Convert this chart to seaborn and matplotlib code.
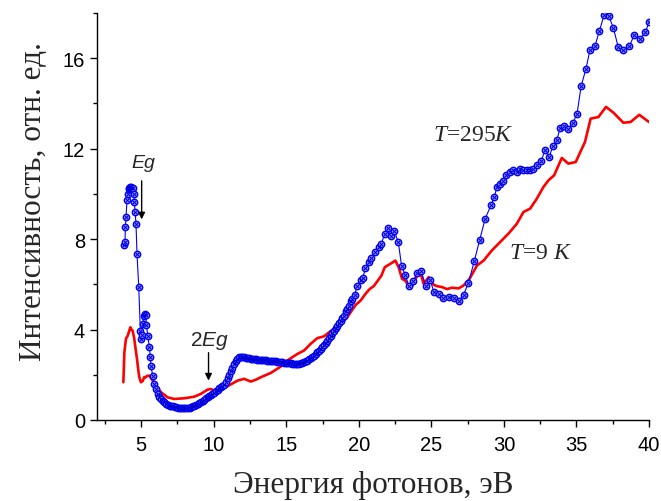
import numpy as np
import pandas as pd
import matplotlib
matplotlib.use("Agg")
import matplotlib.pyplot as plt
import seaborn as sns

# ---------------- data ----------------
blue_x = [3.84, 3.88, 3.91, 3.95, 4.02, 4.07, 4.13, 4.18, 4.24, 4.30, 4.36, 4.41, 4.48, 4.52, 4.58, 4.64,
          4.71, 4.83, 4.94, 4.98, 5.02, 5.10, 5.18, 5.24, 5.30, 5.36, 5.45, 5.56, 5.63, 5.67, 5.79, 5.90,
          6.02, 6.13, 6.25, 6.36, 6.48, 6.59, 6.70, 6.82, 6.95, 7.06, 7.17, 7.30, 7.41, 7.52, 7.64, 7.75,
          7.87, 7.98, 8.10, 8.21, 8.33, 8.44, 8.55, 8.65, 8.77, 8.88, 9.00, 9.11, 9.23, 9.34, 9.45, 9.57,
          9.68, 9.80, 9.91, 10.03, 10.14, 10.26, 10.37, 10.49, 10.60, 10.72, 10.83, 10.95, 11.06, 11.17,
          11.29, 11.40, 11.52, 11.63, 11.75, 11.86, 11.98, 12.09, 12.20, 12.32, 12.43, 12.55, 12.66, 12.78,
          12.89, 13.00, 13.12, 13.23, 13.35, 13.46, 13.58, 13.70, 13.81, 13.93, 14.04, 14.16, 14.27, 14.39,
          14.50, 14.62, 14.73, 14.85, 14.96, 15.07, 15.19, 15.30, 15.42, 15.53, 15.65, 15.76, 15.88, 15.99,
          16.10, 16.22, 16.33, 16.45, 16.56, 16.68, 16.79, 16.90, 17.02, 17.13, 17.25, 17.36, 17.48, 17.60,
          17.71, 17.83, 17.94, 18.05, 18.17, 18.28, 18.40, 18.51, 18.63, 18.74, 18.86, 18.97, 19.10, 19.20,
          19.31, 19.43, 19.54, 19.71, 19.89, 20.12, 20.28, 20.46, 20.69, 20.87, 21.10, 21.38, 21.56, 21.77,
          22.00, 22.22, 22.45, 22.72, 22.95, 23.20, 23.45, 23.73, 24.02, 24.30, 24.63, 24.93, 25.16, 25.50,
          25.80, 26.19, 26.53, 26.88, 27.22, 27.56, 27.96, 28.32, 28.71, 29.12, 29.34, 29.52, 29.74, 29.97,
          30.16, 30.43, 30.66, 30.89, 31.12, 31.35, 31.58, 31.81, 32.04, 32.27, 32.57, 32.84, 33.12, 33.37,
          33.65, 33.87, 34.17, 34.45, 34.75, 35.04, 35.32, 35.66, 35.93, 36.28, 36.58, 36.90, 37.22, 37.54,
          37.88, 38.23, 38.64, 38.98, 39.37, 39.76, 40.00]
blue_y = [7.72, 7.87, 8.53, 8.98, 9.71, 10.00, 10.20, 10.26, 10.30, 10.30, 10.28, 10.26, 10.00, 9.64, 9.20, 8.68,
          7.35, 5.88, 3.95, 3.60, 3.75, 4.25, 4.60, 4.69, 4.65, 4.20, 3.73, 3.22, 2.78, 2.40, 1.96, 1.60,
          1.37, 1.15, 1.03, 0.93, 0.85, 0.78, 0.72, 0.68, 0.64, 0.62, 0.60, 0.57, 0.56, 0.55, 0.54, 0.53,
          0.53, 0.53, 0.53, 0.54, 0.55, 0.57, 0.60, 0.63, 0.67, 0.71, 0.75, 0.80, 0.85, 0.90, 0.96, 1.02,
          1.08, 1.12, 1.17, 1.20, 1.26, 1.34, 1.42, 1.48, 1.50, 1.55, 1.70, 1.85, 1.98, 2.15,
          2.30, 2.46, 2.60, 2.70, 2.77, 2.80, 2.80, 2.78, 2.76, 2.73, 2.72, 2.71, 2.70, 2.69,
          2.68, 2.67, 2.67, 2.66, 2.65, 2.64, 2.64, 2.63, 2.62, 2.61, 2.60, 2.60, 2.59, 2.58,
          2.57, 2.56, 2.55, 2.54, 2.53, 2.52, 2.51, 2.50, 2.49, 2.48, 2.48, 2.49, 2.49, 2.50,
          2.53, 2.57, 2.60, 2.63, 2.70, 2.76, 2.80, 2.85, 2.92, 3.00, 3.07, 3.14, 3.24, 3.33,
          3.42, 3.51, 3.62, 3.73, 3.84, 3.95, 4.06, 4.17, 4.28, 4.40, 4.50, 4.59, 4.80, 4.92,
          5.02, 5.25, 5.36, 5.54, 5.92, 6.20, 6.30, 6.73, 6.98, 7.16, 7.42, 7.65, 7.79, 8.24,
          8.49, 8.14, 8.35, 7.87, 6.80, 6.42, 5.92, 6.13, 6.51, 6.57, 5.92, 6.18, 5.68, 5.56,
          5.40, 5.46, 5.40, 5.26, 5.55, 6.07, 7.03, 7.94, 8.90, 9.52, 9.86, 10.30, 10.45, 10.58,
          10.82, 10.97, 11.04, 10.97, 11.12, 11.07, 11.04, 11.04, 11.12, 11.26, 11.45, 11.96, 11.63, 12.10,
          12.37, 12.92, 13.00, 12.89, 13.14, 13.52, 14.76, 15.54, 16.36, 16.55, 17.21, 17.90, 17.88, 17.35,
          16.50, 16.36, 16.53, 17.02, 16.87, 17.14, 17.61]

red_x = [3.77, 3.84, 3.95, 4.07, 4.18, 4.25, 4.33, 4.41, 4.52, 4.62, 4.71, 4.80, 4.87, 4.98, 5.10, 5.21,
         5.30, 5.40, 5.56, 5.67, 5.79, 6.02, 6.36, 6.82, 7.28, 7.98, 8.65, 9.10, 9.57, 9.80, 10.03, 10.20,
         10.50, 10.95, 11.30, 11.64, 12.09, 12.55, 12.90, 13.24, 13.93, 14.61, 15.07, 15.76, 16.22, 16.68,
         17.14, 17.60, 18.05, 18.51, 18.97, 19.16, 19.43, 19.78, 20.12, 20.46, 20.76, 21.03, 21.26, 21.56,
         21.79, 22.18, 22.52, 22.75, 22.98, 23.20, 23.40, 23.56, 23.79, 24.02, 24.25, 24.47, 24.82, 25.16,
         25.39, 25.73, 26.08, 26.42, 26.88, 27.22, 27.63, 28.14, 28.60, 29.17, 29.74, 30.31, 30.89, 31.35,
         31.81, 32.27, 32.72, 33.07, 33.46, 33.99, 34.44, 34.95, 35.59, 35.98, 36.51, 37.04, 37.54, 38.23,
         38.73, 39.33, 40.00]
red_y = [1.67, 3.00, 3.60, 3.73, 3.95, 4.10, 4.00, 3.95, 3.60, 3.10, 2.70, 2.20, 1.89, 1.67, 1.72, 1.90,
         1.88, 1.95, 1.96, 1.85, 1.74, 1.52, 1.23, 1.00, 0.93, 0.96, 1.03, 1.15, 1.34, 1.37, 1.30, 1.30,
         1.35, 1.49, 1.62, 1.74, 1.82, 1.70, 1.78, 1.89, 2.08, 2.36, 2.63, 2.92, 3.07, 3.37,
         3.62, 3.70, 3.93, 4.13, 4.40, 4.50, 4.76, 5.09, 5.28, 5.58, 5.80, 5.92, 6.12, 6.39,
         6.76, 6.91, 7.05, 6.75, 6.24, 6.17, 5.95, 5.80, 6.05, 6.39, 6.50, 6.02, 6.32, 5.98,
         5.92, 5.88, 5.79, 5.85, 5.82, 5.95, 6.24, 6.83, 7.05, 7.50, 7.87, 8.24, 8.68, 9.20,
         9.35, 9.79, 10.30, 10.60, 10.82, 11.59, 11.34, 11.41, 12.30, 13.33, 13.40, 13.85, 13.60, 13.15,
         13.18, 13.50, 13.18]

x_ticks = [5, 10, 15, 20, 25, 30, 35, 40]
y_ticks = [0, 4, 8, 12, 16]
x_label = "Энергия фотонов, эВ"
y_label = "Интенсивность, отн. ед."

# ---------------- style ----------------
sns.set_style("ticks")
plt.rcParams['font.family'] = ['Liberation Sans', 'DejaVu Sans']
plt.rcParams['mathtext.fontset'] = 'custom'
plt.rcParams['mathtext.rm'] = 'Liberation Serif'
plt.rcParams['mathtext.it'] = 'Liberation Serif:italic'
plt.rcParams['mathtext.bf'] = 'Liberation Sans:italic'

fig = plt.figure(figsize=(6.61, 5.02), dpi=100)
ax = fig.add_axes([0.1467, 0.1614, 0.8351, 0.8106])

df_red = pd.DataFrame({"x": red_x, "y": red_y})
df_blue = pd.DataFrame({"x": blue_x, "y": blue_y})

sns.lineplot(data=df_red, x="x", y="y", ax=ax, color="#ff0000", lw=1.9,
             sort=False, estimator=None, zorder=2)
sns.lineplot(data=df_blue, x="x", y="y", ax=ax, color="#0000ff", lw=0.8,
             sort=False, estimator=None, marker="o", markersize=4.6,
             markerfacecolor="#8c8cff", markeredgecolor="#0000ff", markeredgewidth=1.0, zorder=3)
sns.scatterplot(data=df_blue, x="x", y="y", ax=ax, marker="x", s=6, color="#0000cc",
                linewidth=0.7, zorder=4)

ax.set_xlim(1.95, 40)
ax.set_ylim(0, 18)
ax.set_xticks(x_ticks)
ax.set_yticks(y_ticks)
ax.set_xticks(np.arange(2.5, 40, 5), minor=True)
ax.set_yticks([2, 6, 10, 14, 18], minor=True)
ax.tick_params(axis='both', which='major', direction='out', length=5, width=1,
               labelsize=14.5, color='black', labelcolor='black')
ax.tick_params(axis='both', which='minor', direction='out', length=3, width=1, color='black')
ax.tick_params(axis='x', pad=6)
for s in ['top', 'right']:
    ax.spines[s].set_visible(False)
for s in ['left', 'bottom']:
    ax.spines[s].set_color('black')
    ax.spines[s].set_linewidth(1.0)

ax.set_xlabel(x_label, fontsize=22.5, family='Liberation Serif', labelpad=11)
ax.set_ylabel(y_label, fontsize=22.5, family='Liberation Serif')
ax.yaxis.set_label_coords(-0.088, 0.538)

# annotations
ax.text(5.13, 11.2, "Eg", fontsize=14, style='italic', family='Liberation Sans',
        ha='center', va='baseline')
ax.annotate("", xy=(5.03, 8.75), xytext=(5.03, 10.7),
            arrowprops=dict(arrowstyle='-|>', color='black', lw=1, mutation_scale=10))
ax.text(9.7, 3.3, r"2$\mathbf{Eg}$", fontsize=15, family='Liberation Sans',
        ha='center', va='baseline')
ax.annotate("", xy=(9.64, 1.62), xytext=(9.64, 3.1),
            arrowprops=dict(arrowstyle='-|>', color='black', lw=1, mutation_scale=10))
ax.text(25.14, 12.37, r"$T$=295$K$", fontsize=17, family='Liberation Serif',
        ha='left', va='baseline')
ax.text(30.38, 7.16, r"$T$=9 $K$", fontsize=17, family='Liberation Serif',
        ha='left', va='baseline')

fig.savefig("out.png", dpi=100)
